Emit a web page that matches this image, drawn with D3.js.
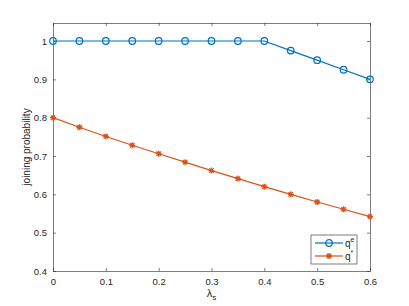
<!DOCTYPE html>
<html>
<head>
<meta charset="utf-8">
<script src="https://cdn.jsdelivr.net/npm/d3@7"></script>
<style>
body { margin: 0; background: #fff; }
svg { display: block; font-family: "Liberation Sans", Arial, sans-serif; }
</style>
</head>
<body>
<div id="chart"></div>
<script>
const width = 409, height = 306;
const margin = { top: 23, right: 39, bottom: 35, left: 53 };

// data
const lambdaS = [0, 0.05, 0.1, 0.15, 0.2, 0.25, 0.3, 0.35, 0.4, 0.45, 0.5, 0.55, 0.6];
const qE = [1, 1, 1, 1, 1, 1, 1, 1, 1, 0.975, 0.95, 0.925, 0.9];
const qStar = [0.8, 0.775, 0.751, 0.728, 0.706, 0.684, 0.662, 0.641, 0.62, 0.6, 0.58, 0.561, 0.542];
const xTicks = [0, 0.1, 0.2, 0.3, 0.4, 0.5, 0.6];
const yTicks = [0.4, 0.5, 0.6, 0.7, 0.8, 0.9, 1];

const blue = "#0072BD", orange = "#D95319", axisCol = "#262626";

const svg = d3.select("#chart").append("svg")
	.attr("width", width)
	.attr("height", height);

const x = d3.scaleLinear().domain([0, 0.6]).range([margin.left, width - margin.right]);
const y = d3.scaleLinear().domain([0.4, 1.047]).range([height - margin.bottom, margin.top]);

const fmt = d => (d === 1 || d === 0) ? String(d) : d3.format(".1f")(d);

// box + ticks
svg.append("g")
	.attr("transform", `translate(0,${height - margin.bottom})`)
	.call(d3.axisBottom(x).tickValues(xTicks).tickFormat(fmt).tickSizeInner(-3).tickSizeOuter(0).tickPadding(7))
	.call(g => g.selectAll("text").attr("font-size", 9.5).attr("fill", axisCol));
svg.append("g")
	.attr("transform", `translate(0,${margin.top})`)
	.call(d3.axisTop(x).tickValues(xTicks).tickFormat("").tickSizeInner(-3).tickSizeOuter(0));
svg.append("g")
	.attr("transform", `translate(${margin.left},0)`)
	.call(d3.axisLeft(y).tickValues(yTicks).tickFormat(fmt).tickSizeInner(-3).tickSizeOuter(0).tickPadding(6))
	.call(g => g.selectAll("text").attr("font-size", 9.5).attr("fill", axisCol));
svg.append("g")
	.attr("transform", `translate(${width - margin.right},0)`)
	.call(d3.axisRight(y).tickValues(yTicks).tickFormat("").tickSizeInner(-3).tickSizeOuter(0));

svg.selectAll(".domain, .tick line").attr("stroke", axisCol).attr("stroke-width", 0.6);

// axis labels
const xl = svg.append("text")
	.attr("x", (margin.left + width - margin.right) / 2)
	.attr("y", 297)
	.attr("text-anchor", "middle")
	.attr("font-size", 11)
	.attr("fill", axisCol)
	.text("λ");
xl.append("tspan").attr("font-size", 8).attr("dy", 3).text("s");

svg.append("text")
	.attr("transform", `translate(30,${(margin.top + height - margin.bottom) / 2}) rotate(-90)`)
	.attr("text-anchor", "middle")
	.attr("font-size", 10)
	.attr("fill", axisCol)
	.text("joining probability");

const line = d3.line().x(d => x(d[0])).y(d => y(d[1]));

// q^e
svg.append("path")
	.datum(lambdaS.map((l, i) => [l, qE[i]]))
	.attr("d", line)
	.attr("fill", "none")
	.attr("stroke", blue)
	.attr("stroke-width", 1.2);
svg.append("g").selectAll("circle")
	.data(lambdaS.map((l, i) => [l, qE[i]]))
	.enter().append("circle")
	.attr("cx", d => x(d[0]))
	.attr("cy", d => y(d[1]))
	.attr("r", 3.3)
	.attr("fill", "none")
	.attr("stroke", blue)
	.attr("stroke-width", 1.2);

// q^*
function asterisk(g, cx, cy) {
	g.append("path")
		.attr("d", "M-3,0H3M0,-3V3M-2.2,-2.2L2.2,2.2M-2.2,2.2L2.2,-2.2")
		.attr("transform", `translate(${cx},${cy})`)
		.attr("stroke", orange)
		.attr("stroke-width", 1.3);
}
svg.append("path")
	.datum(lambdaS.map((l, i) => [l, qStar[i]]))
	.attr("d", line)
	.attr("fill", "none")
	.attr("stroke", orange)
	.attr("stroke-width", 1.2);
const starG = svg.append("g");
lambdaS.forEach((l, i) => asterisk(starG, x(l), y(qStar[i])));

// legend
const lg = svg.append("g").attr("transform", "translate(311,235)");
lg.append("rect").attr("width", 46).attr("height", 29)
	.attr("fill", "#fff").attr("stroke", axisCol).attr("stroke-width", 0.6);
lg.append("line").attr("x1", 4).attr("x2", 32).attr("y1", 8).attr("y2", 8)
	.attr("stroke", blue).attr("stroke-width", 1.2);
lg.append("circle").attr("cx", 18).attr("cy", 8).attr("r", 3.3)
	.attr("fill", "none").attr("stroke", blue).attr("stroke-width", 1.2);
lg.append("line").attr("x1", 4).attr("x2", 32).attr("y1", 21).attr("y2", 21)
	.attr("stroke", orange).attr("stroke-width", 1.2);
asterisk(lg, 18, 21);
const t1 = lg.append("text").attr("x", 34).attr("y", 12).attr("font-size", 10).attr("fill", axisCol).text("q");
t1.append("tspan").attr("font-size", 7).attr("dy", -5).text("e");
const t2 = lg.append("text").attr("x", 34).attr("y", 25).attr("font-size", 10).attr("fill", axisCol).text("q");
t2.append("tspan").attr("font-size", 7).attr("dy", -5).text("*");
</script>
</body>
</html>
